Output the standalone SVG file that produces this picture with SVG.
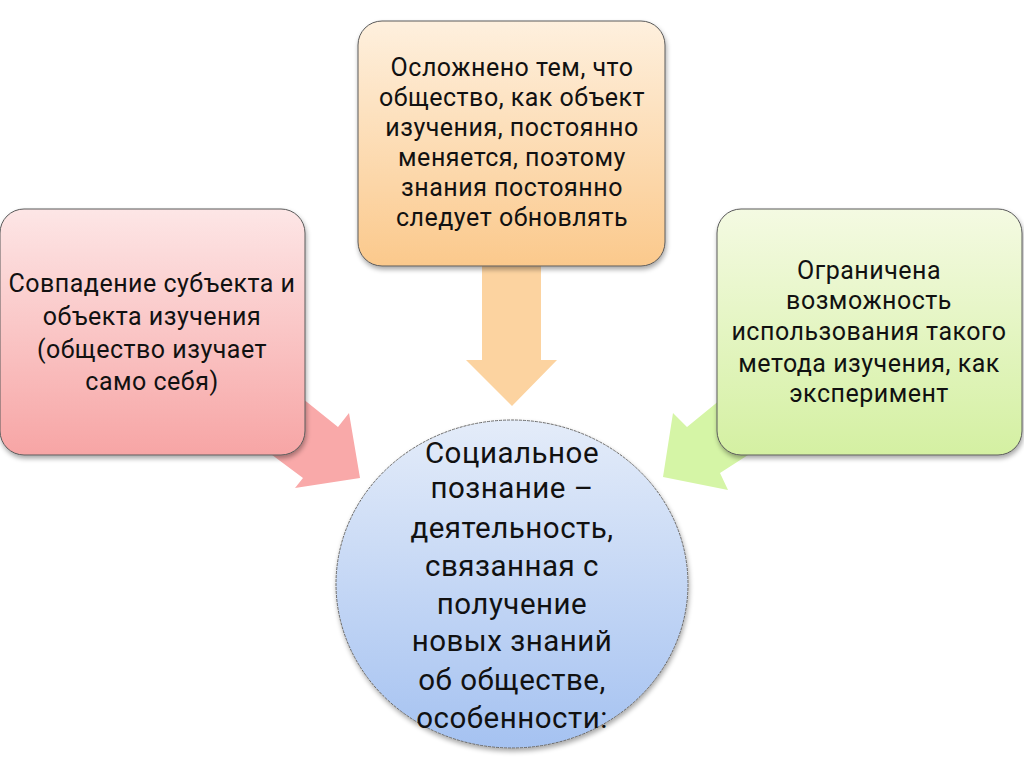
<svg xmlns="http://www.w3.org/2000/svg" width="1024" height="767" viewBox="0 0 1024 767">
<defs>
<linearGradient id="gOrange" x1="0" y1="0" x2="0" y2="1">
<stop offset="0" stop-color="#fef0de"/>
<stop offset="1" stop-color="#fbc98c"/>
</linearGradient>
<linearGradient id="gPink" x1="0" y1="0" x2="0" y2="1">
<stop offset="0" stop-color="#fde6e6"/>
<stop offset="1" stop-color="#f7a5a5"/>
</linearGradient>
<linearGradient id="gGreen" x1="0" y1="0" x2="0" y2="1">
<stop offset="0" stop-color="#f4fae2"/>
<stop offset="1" stop-color="#d4f0a2"/>
</linearGradient>
<linearGradient id="gBlue" x1="0" y1="0" x2="0" y2="1">
<stop offset="0" stop-color="#e4ecf9"/>
<stop offset="1" stop-color="#a5c2f1"/>
</linearGradient>
<filter id="sh" x="-10%" y="-10%" width="120%" height="125%">
<feGaussianBlur in="SourceAlpha" stdDeviation="2.5"/>
<feOffset dx="1" dy="3" result="b"/>
<feComponentTransfer><feFuncA type="linear" slope="0.35"/></feComponentTransfer>
<feMerge><feMergeNode/><feMergeNode in="SourceGraphic"/></feMerge>
</filter>
</defs>
<style>
.box{stroke:#5a5a5a;stroke-width:1;filter:url(#sh)}
.t{font-family:Roboto,"Open Sans","Liberation Sans",sans-serif;fill:#111;text-anchor:middle}
.s{font-size:25px;letter-spacing:0.5px}
.b{font-size:29.5px;letter-spacing:0.5px}
</style>
<rect width="1024" height="767" fill="#ffffff"/>
<g id="connectors">
<polygon id="arrow-top" points="482,262 541,262 541,360 557,360 512,406 466,360 482,360" fill="#fcd3a0"/>
<polygon id="arrow-left" points="282,382 338,427 349,413 360,478 295,488 303,478 248,437" fill="#f9a9a9"/>
<polygon id="arrow-right" points="742,382 687,427 673,413 663,477 728,490 720,473 776,437" fill="#d5f5a6"/>
</g>
<g id="node-top">
<rect class="box" x="358" y="21" width="307" height="245" rx="24" fill="url(#gOrange)"/>
<text class="t s"><tspan x="512" y="76">Осложнено тем, что</tspan><tspan x="512" y="106">общество, как объект</tspan><tspan x="512" y="136">изучения, постоянно</tspan><tspan x="512" y="166">меняется, поэтому</tspan><tspan x="512" y="196">знания постоянно</tspan><tspan x="512" y="226">следует обновлять</tspan></text>
</g>
<g id="node-left">
<rect class="box" x="0" y="209" width="305" height="246" rx="24" fill="url(#gPink)"/>
<text class="t s"><tspan x="152" y="292">Совпадение субъекта и</tspan><tspan x="152" y="325">объекта изучения</tspan><tspan x="152" y="358">(общество изучает</tspan><tspan x="152" y="390">само себя)</tspan></text>
</g>
<g id="node-right">
<rect class="box" x="717" y="209" width="305" height="246" rx="24" fill="url(#gGreen)"/>
<text class="t s"><tspan x="869" y="279">Ограничена</tspan><tspan x="869" y="309">возможность</tspan><tspan x="869" y="340">использования такого</tspan><tspan x="869" y="372">метода изучения, как</tspan><tspan x="869" y="402">эксперимент</tspan></text>
</g>
<g id="node-center">
<ellipse cx="512" cy="584" rx="176" ry="164" fill="url(#gBlue)" stroke="#6a6a6a" stroke-width="1" stroke-dasharray="3 1" filter="url(#sh)"/>
<text class="t b"><tspan x="512" y="463">Социальное</tspan><tspan x="512" y="498">познание –</tspan><tspan x="512" y="538">деятельность,</tspan><tspan x="512" y="576">связанная с</tspan><tspan x="512" y="614">получение</tspan><tspan x="512" y="651">новых знаний</tspan><tspan x="512" y="690">об обществе,</tspan><tspan x="512" y="728">особенности:</tspan></text>
</g>
</svg>
